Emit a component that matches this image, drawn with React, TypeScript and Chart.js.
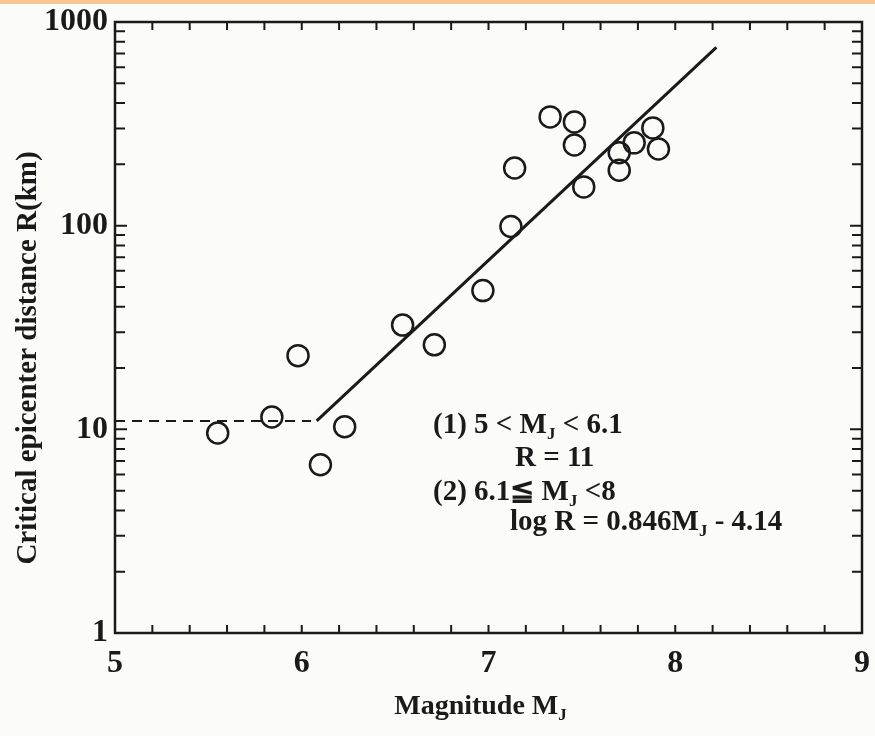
import React, { useEffect, useRef } from "react";
import { Chart, registerables } from "chart.js";

Chart.register(...registerables);

// Observed earthquakes: magnitude M_J and critical epicenter distance R (km)
const magnitudes = [5.55, 5.84, 5.98, 6.10, 6.23, 6.54, 6.71, 6.97, 7.12, 7.14, 7.33, 7.46, 7.46, 7.51, 7.70, 7.70, 7.78, 7.88, 7.91];
const distances = [9.6, 11.5, 23, 6.7, 10.3, 32.5, 26, 48, 99, 192, 342, 323, 249, 155, 187, 228, 255, 302, 238];

// Relation (2): log R = 0.846 M_J - 4.14, drawn from its end points
const fitMagnitudes = [6.08, 8.22];
const fitDistances = [11, 750];

// Relation (1): R = 11 for small events
const constMagnitudes = [5.0, 6.05];
const constDistances = [11, 11];

const xTickValues = [5, 6, 7, 8, 9];
const yTickValues = [1, 10, 100, 1000];

const SERIF = '"Liberation Serif", "Times New Roman", serif';
const INK = "#1a1a1a";

type Part = { t: string; sub?: boolean };

function drawRich(ctx: CanvasRenderingContext2D, parts: Part[], x: number, y: number, size: number) {
  let cx = x;
  for (const p of parts) {
    if (p.sub) {
      ctx.font = `bold ${Math.round(size * 0.6)}px ${SERIF}`;
      ctx.fillText(p.t, cx, y + size * 0.2);
    } else {
      ctx.font = `bold ${size}px ${SERIF}`;
      ctx.fillText(p.t, cx, y);
    }
    cx += ctx.measureText(p.t).width;
  }
  return cx - x;
}

function measureRich(ctx: CanvasRenderingContext2D, parts: Part[], size: number) {
  let w = 0;
  for (const p of parts) {
    ctx.font = `bold ${p.sub ? Math.round(size * 0.6) : size}px ${SERIF}`;
    w += ctx.measureText(p.t).width;
  }
  return w;
}

const framePlugin = {
  id: "frame",
  beforeDraw(chart: any) {
    const ctx = chart.ctx as CanvasRenderingContext2D;
    ctx.save();
    ctx.fillStyle = "#fbfbf7";
    ctx.fillRect(0, 0, chart.width, chart.height);
    ctx.fillStyle = "#f8c690";
    ctx.fillRect(0, 0, chart.width, 4);
    ctx.restore();
  },
  afterDraw(chart: any) {
    const ctx = chart.ctx as CanvasRenderingContext2D;
    const { left, right, top, bottom } = chart.chartArea;
    const xs = chart.scales.x;
    const ys = chart.scales.y;
    ctx.save();
    ctx.strokeStyle = INK;
    ctx.lineWidth = 2.5;
    ctx.strokeRect(left, top, right - left, bottom - top);

    // inward ticks, x (every 0.2)
    ctx.lineWidth = 2;
    for (let i = 1; i < 20; i++) {
      const v = 5 + i * 0.2;
      const px = xs.getPixelForValue(v);
      ctx.beginPath();
      ctx.moveTo(px, bottom);
      ctx.lineTo(px, bottom - 8);
      ctx.moveTo(px, top);
      ctx.lineTo(px, top + 8);
      ctx.stroke();
    }
    // inward ticks, y (log minor)
    for (let d = 1; d <= 100; d *= 10) {
      for (let m = 1; m <= 9; m++) {
        const v = d * m;
        if (v === 1) continue;
        const py = ys.getPixelForValue(v);
        const len = m === 1 ? 12 : 10;
        ctx.beginPath();
        ctx.moveTo(left, py);
        ctx.lineTo(left + len, py);
        ctx.moveTo(right, py);
        ctx.lineTo(right - len, py);
        ctx.stroke();
      }
    }

    // axis titles
    ctx.fillStyle = INK;
    ctx.textBaseline = "alphabetic";
    const xt: Part[] = [{ t: "Magnitude M" }, { t: "J", sub: true }];
    const xtSize = 28;
    const xtw = measureRich(ctx, xt, xtSize);
    drawRich(ctx, xt, (left + right) / 2 - xtw / 2 - 8, 714, xtSize);

    ctx.save();
    ctx.translate(36, 358);
    ctx.rotate(-Math.PI / 2);
    ctx.font = `bold 29px ${SERIF}`;
    ctx.textAlign = "center";
    ctx.fillText("Critical epicenter distance R(km)", 0, 0);
    ctx.restore();

    // equations
    const s = 29;
    const ax = left + 318;
    drawRich(ctx, [{ t: "(1) 5 < M" }, { t: "J", sub: true }, { t: " < 6.1" }], ax, top + 411, s);
    drawRich(ctx, [{ t: "R = 11" }], left + 400, top + 444, s);
    drawRich(ctx, [{ t: "(2) 6.1\u2266 M" }, { t: "J", sub: true }, { t: " <8" }], ax, top + 478, s);
    drawRich(ctx, [{ t: "log R = 0.846M" }, { t: "J", sub: true }, { t: " - 4.14" }], left + 395, top + 508, s);
    ctx.restore();
  },
};

export default function App() {
  const ref = useRef<HTMLCanvasElement | null>(null);
  useEffect(() => {
    if (!ref.current) return;
    const pts = magnitudes.map((m, i) => ({ x: m, y: distances[i] }));
    const fit = fitMagnitudes.map((m, i) => ({ x: m, y: fitDistances[i] }));
    const cst = constMagnitudes.map((m, i) => ({ x: m, y: constDistances[i] }));
    const chart = new Chart(ref.current, {
      type: "scatter",
      data: {
        datasets: [
          {
            label: "R = 11",
            data: cst,
            showLine: true,
            borderColor: INK,
            borderWidth: 2,
            borderDash: [10, 7],
            pointRadius: 0,
            fill: false,
          },
          {
            label: "log R = 0.846MJ - 4.14",
            data: fit,
            showLine: true,
            borderColor: INK,
            borderWidth: 3,
            pointRadius: 0,
            fill: false,
          },
          {
            label: "Observed",
            data: pts,
            showLine: false,
            pointStyle: "circle",
            pointRadius: 10.5,
            pointBorderWidth: 2.5,
            pointBorderColor: INK,
            pointBackgroundColor: "rgba(0,0,0,0)",
          },
        ],
      },
      options: {
        responsive: false,
        animation: false,
        layout: { padding: { top: 22, right: 10, left: 0, bottom: 0 } },
        plugins: { legend: { display: false }, tooltip: { enabled: false } },
        scales: {
          x: {
            type: "linear",
            min: 5,
            max: 9,
            afterBuildTicks: (s: any) => {
              s.ticks = xTickValues.map((v) => ({ value: v }));
            },
            afterFit: (s: any) => {
              s.height = 103;
              s.paddingLeft = 0;
              s.paddingRight = 0;
            },
            grid: { display: false, drawTicks: false },
            border: { display: false },
            ticks: {
              padding: 12,
              color: INK,
              font: { family: SERIF, size: 32, weight: "bold" },
              maxRotation: 0,
            },
          },
          y: {
            type: "logarithmic",
            min: 1,
            max: 1000,
            afterBuildTicks: (s: any) => {
              s.ticks = yTickValues.map((v) => ({ value: v }));
            },
            afterFit: (s: any) => {
              s.width = 115;
              s.paddingTop = 0;
              s.paddingBottom = 0;
            },
            grid: { display: false, drawTicks: false },
            border: { display: false },
            ticks: {
              padding: 7,
              color: INK,
              font: { family: SERIF, size: 32, weight: "bold" },
              callback: (v: any) => String(v),
            },
          },
        },
      },
      plugins: [framePlugin],
    });
    return () => chart.destroy();
  }, []);
  return (
    <div style={{ position: "absolute", left: 0, top: 0, width: 875, height: 736 }}>
      <canvas ref={ref} width={875} height={736} style={{ display: "block" }} />
    </div>
  );
}
